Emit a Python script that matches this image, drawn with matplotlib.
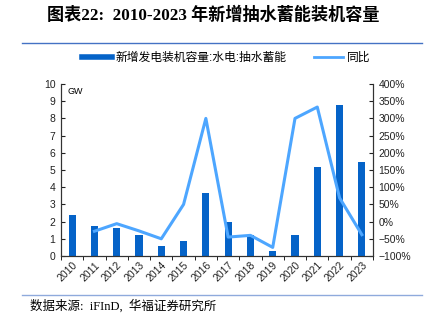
import numpy as np
import matplotlib.pyplot as plt
from matplotlib.lines import Line2D

years = [str(y) for y in range(2010, 2024)]
capacity = [2.4, 1.75, 1.65, 1.2, 0.6, 0.9, 3.65, 2.0, 1.2, 0.3, 1.2, 5.2, 8.8, 5.45]
yoy = [None, -28, -6, -27, -50, 50, 300, -45, -40, -75, 300, 333, 69, -38]

bar_color = "#0563C8"
line_color = "#4DA6FF"

sans = ["Liberation Sans", "Noto Sans CJK SC"]
serif = ["Liberation Serif", "Noto Sans CJK SC"]
plt.rcParams["font.family"] = sans

fig = plt.figure(figsize=(4.24, 3.27), dpi=100)
ax = fig.add_axes([61 / 424, 1 - 256 / 327, (373 - 61) / 424, (256 - 84) / 327])
ax2 = ax.twinx()

x = np.arange(len(years))
ax.bar(x, capacity, width=0.32, color=bar_color, zorder=2)
xl = [i for i, v in zip(x, yoy) if v is not None]
yl = [v for v in yoy if v is not None]
ax2.plot(xl, yl, color=line_color, lw=2.2)

ax.set_xlim(-0.5, len(years) - 0.5)
ax.set_ylim(0, 10)
ax.set_yticks(range(0, 11))
ax2.set_ylim(-100, 400)
ax2.set_yticks(range(-100, 401, 50))
ax2.set_yticklabels([f"{v}%".replace("-", "\u2212") for v in range(-100, 401, 50)])

ax.set_xticks(x)
ax.set_xticklabels(years, rotation=45, ha="right", rotation_mode="anchor")
ax.set_xticks(np.arange(-0.5, len(years)), minor=True)
ax.tick_params(axis="x", which="major", length=0, labelsize=7.5, pad=3)
ax.tick_params(axis="x", which="minor", length=3, direction="out")
ax.tick_params(axis="y", direction="in", length=3, labelsize=7.5, pad=4)
ax2.tick_params(axis="y", direction="in", length=3, labelsize=7.5, pad=4)

for a in (ax, ax2):
    a.spines["top"].set_visible(False)
    for s in ("left", "right", "bottom"):
        a.spines[s].set_color("#333333")
        a.spines[s].set_linewidth(0.8)
ax.tick_params(colors="#222222")
ax2.tick_params(colors="#222222")

ax.text(0.02, 0.98, "GW", transform=ax.transAxes, fontsize=6.5, va="top", ha="left")

handles = [
    Line2D([], [], color=bar_color, lw=4),
    Line2D([], [], color=line_color, lw=2),
]
fig.legend(handles, ["新增发电装机容量:水电:抽水蓄能", "同比"],
           loc="center left", bbox_to_anchor=(82 / 424, 1 - 58 / 327),
           ncol=2, frameon=False, borderpad=0, borderaxespad=0,
           handlelength=2.5, columnspacing=2.3, handletextpad=0.35,
           prop={"family": sans, "size": 8.5})

fig.text(0.503, 1 - 15 / 327, "图表22:  2010-2023 年新增抽水蓄能装机容量",
         ha="center", va="center", fontsize=12.3, fontweight="bold", family=serif)
fig.add_artist(Line2D([22 / 424, 422 / 424], [1 - 43 / 327] * 2, color="#4472C4", lw=1))
fig.add_artist(Line2D([22 / 424, 422 / 424], [1 - 295 / 327] * 2, color="#8FAADC", lw=1))
fig.text(30 / 424, 1 - 306 / 327, "数据来源:  iFInD,  华福证券研究所",
         ha="left", va="center", fontsize=9, family=serif)

fig.savefig("out.png", dpi=100)
